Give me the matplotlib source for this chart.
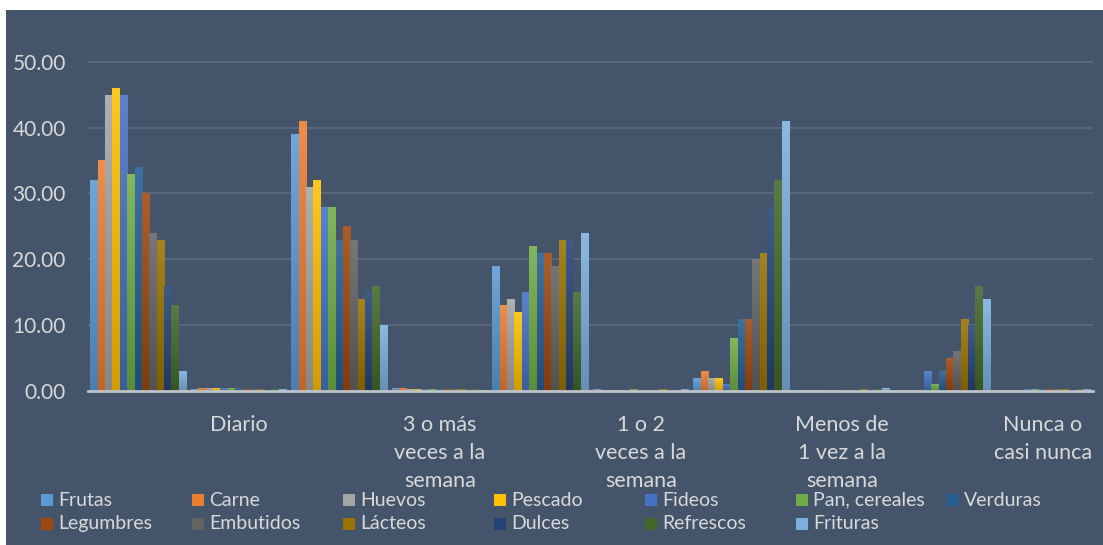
import matplotlib
matplotlib.use('Agg')
import matplotlib.pyplot as plt
import numpy as np
from matplotlib.patches import Rectangle
from matplotlib.colors import LinearSegmentedColormap, to_rgb

plt.rcParams['font.family'] = ['Lato', 'DejaVu Sans']

# categorias (las posiciones impares no tienen etiqueta en el original)
categorias = ['', 'Diario', '', '3 o más\nveces a la\nsemana', '', '1 o 2\nveces a la\nsemana',
              '', 'Menos de\n1 vez a la\nsemana', '', 'Nunca o\ncasi nunca']

series = ['Frutas', 'Carne', 'Huevos', 'Pescado', 'Fideos', 'Pan, cereales', 'Verduras',
          'Legumbres', 'Embutidos', 'Lácteos', 'Dulces', 'Refrescos', 'Frituras']

frutas    = [32, 0.25, 39, 0.45, 19, 0.3, 2, 0.2, 0, 0]
carne     = [35, 0.45, 41, 0.45, 13, 0.2, 3, 0.2, 0, 0]
huevos    = [45, 0.45, 31, 0.3, 14, 0.2, 2, 0.2, 0, 0]
pescado   = [46, 0.45, 32, 0.3, 12, 0.2, 2, 0.2, 0, 0]
fideos    = [45, 0.45, 28, 0.3, 15, 0.2, 1.1, 0.2, 3, 0.3]
pan       = [33, 0.45, 28, 0.3, 22, 0.35, 8, 0.2, 1.1, 0.3]
verduras  = [34, 0.4, 23, 0.25, 21, 0.2, 11, 0.2, 3, 0.3]
legumbres = [30, 0.35, 25, 0.3, 21, 0.2, 11, 0.2, 5, 0.3]
embutidos = [24, 0.35, 23, 0.3, 19, 0.2, 20, 0.2, 6, 0.3]
lacteos   = [23, 0.35, 14, 0.25, 23, 0.3, 21, 0.25, 11, 0.3]
dulces    = [16, 0.3, 15, 0.2, 23, 0.1, 28, 0.2, 10, 0.3]
refrescos = [13, 0.3, 16, 0.25, 15, 0.2, 32, 0.25, 16, 0.3]
frituras  = [3, 0.3, 10, 0.2, 24, 0.35, 41, 0.45, 14, 0.35]

valores = [frutas, carne, huevos, pescado, fideos, pan, verduras,
           legumbres, embutidos, lacteos, dulces, refrescos, frituras]

colores = ['#5B9BD5', '#ED7D31', '#A5A5A5', '#FFC000', '#4472C4', '#70AD47', '#255E91',
           '#9E480E', '#636363', '#997300', '#264478', '#43682B', '#7CAFDD']

fondo = '#44546A'
texto = '#D9D9D9'

W, H = 1103, 545
fig = plt.figure(figsize=(W / 100, H / 100), dpi=100, facecolor='white')
fig.patches.append(Rectangle((6 / W, 0), 1, (H - 10) / H, transform=fig.transFigure,
                             facecolor=fondo, edgecolor='none', zorder=-10))

ymax = 52
ppu = (391 - 61.7) / 50
top = 391 - ymax * ppu
ax = fig.add_axes([88 / W, 1 - 391 / H, 1005 / W, (391 - top) / H])
ax.set_facecolor('none')

x = np.arange(len(categorias))
n = len(series)
bw = 0.955 / n


def tono(c, f):
    r = np.array(to_rgb(c))
    if f > 0:
        return tuple(r + (1 - r) * f)
    return tuple(r * (1 + f))


for i, (nom, vals, col) in enumerate(zip(series, valores, colores)):
    pos = x - 0.955 / 2 + bw * (i + 0.5)
    bars = ax.bar(pos, vals, width=bw, color=col, linewidth=0, zorder=1)
    cmap = LinearSegmentedColormap.from_list('g' + str(i), [tono(col, -0.18), tono(col, 0.12)])
    for b in bars:
        h = b.get_height()
        if h <= 0:
            continue
        im = ax.imshow(np.linspace(0, 1, 64).reshape(-1, 1), extent=[b.get_x(), b.get_x() + bw, 0, h],
                       origin='lower', aspect='auto', cmap=cmap, zorder=1.1, interpolation='bilinear')
        im.set_clip_path(b)

ax.set_xlim(-0.5, len(categorias) - 0.5)
ax.set_ylim(0, ymax)
ax.set_yticks([0, 10, 20, 30, 40, 50])
ax.set_yticklabels(['%.2f' % v for v in [0, 10, 20, 30, 40, 50]])
ax.set_xticks(x)
ax.set_xticklabels(categorias, linespacing=1.5)
ax.tick_params(axis='y', length=0, pad=16, labelsize=15, labelcolor=texto)
ax.tick_params(axis='x', length=0, pad=17, labelsize=15.5, labelcolor=texto)

ax.set_axisbelow(True)
ax.yaxis.grid(True, color='#586779', linewidth=1.5)
ax.xaxis.grid(False)
for s in ['top', 'right', 'left']:
    ax.spines[s].set_visible(False)
ax.spines['bottom'].set_color('#BFC3C8')
ax.spines['bottom'].set_linewidth(2)
ax.spines['bottom'].set_zorder(3)

# leyenda en dos filas, columnas de ancho fijo como en Excel
for i, (nom, col) in enumerate(zip(series, colores)):
    fila, c = divmod(i, 7)
    x0 = 41 + c * 151
    yc = 500 + fila * 23.5
    fig.patches.append(Rectangle((x0 / W, 1 - (yc + 6) / H), 12 / W, 12 / H,
                                 transform=fig.transFigure, facecolor=col, edgecolor='none'))
    fig.text((x0 + 17) / W, 1 - yc / H, nom, color=texto, fontsize=14, va='center', ha='left')

fig.savefig('out.png', dpi=100, facecolor='white')
